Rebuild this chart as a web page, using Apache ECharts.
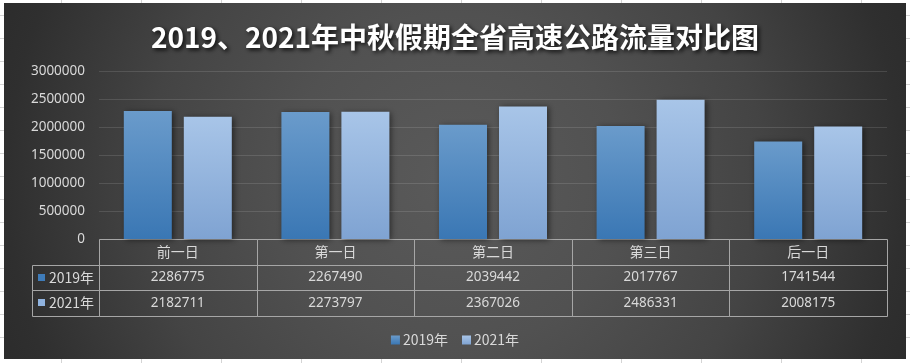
<!DOCTYPE html>
<html>
<head>
<meta charset="utf-8">
<script src="https://cdn.jsdelivr.net/npm/echarts@6/dist/echarts.min.js"></script>
<style>html,body{margin:0;padding:0;background:#fff;}#c{width:910px;height:363px;}</style>
</head>
<body>
<div id="c"></div>
<script>
var TITLE = '2019、2021年中秋假期全省高速公路流量对比图';
var CATEGORIES = ['前一日', '第一日', '第二日', '第三日', '后一日'];
var SERIES_NAMES = ['2019年', '2021年'];
var VALUES_2019 = [2286775, 2267490, 2039442, 2017767, 1741544];
var VALUES_2021 = [2182711, 2273797, 2367026, 2486331, 2008175];
var Y_TICKS = { min: 0, max: 3000000, interval: 500000 };

var COLORS = [
  { top: '#6a9bcb', bottom: '#3a77b4', icon: '#3f7cb9' },
  { top: '#a8c5e8', bottom: '#7fa3d2', icon: '#90b3df' }
];
var LEGEND_COL_W = 67;
var TXT = '#d9d9d9';
var BORDER = '#a6a6a6';

// Table cells: [col, row, text]; col -1 = legend column, row 0 = header
var CELLS = [];
CATEGORIES.forEach(function (c, i) { CELLS.push([i, 0, c]); });
CELLS.push([-1, 1, SERIES_NAMES[0]]);
VALUES_2019.forEach(function (v, i) { CELLS.push([i, 1, String(v)]); });
CELLS.push([-1, 2, SERIES_NAMES[1]]);
VALUES_2021.forEach(function (v, i) { CELLS.push([i, 2, String(v)]); });

function grad(c) {
  return new echarts.graphic.LinearGradient(0, 0, 0, 1, [
    { offset: 0, color: c.top }, { offset: 1, color: c.bottom }
  ]);
}

// Excel sheet gridlines around the chart object (decoration)
var deco = [];
for (var gx = 61; gx <= 861; gx += 80) {
  deco.push({ type: 'line', silent: true, z: -9, shape: { x1: gx + 0.5, y1: 0, x2: gx + 0.5, y2: 3 }, style: { stroke: '#d4d4d4', lineWidth: 1 } });
  deco.push({ type: 'line', silent: true, z: -9, shape: { x1: gx + 0.5, y1: 359, x2: gx + 0.5, y2: 363 }, style: { stroke: '#d4d4d4', lineWidth: 1 } });
}
for (var gy = 15; gy <= 340; gy += 23) {
  deco.push({ type: 'line', silent: true, z: -9, shape: { x1: 0, y1: gy + 0.5, x2: 4, y2: gy + 0.5 }, style: { stroke: '#d4d4d4', lineWidth: 1 } });
  deco.push({ type: 'line', silent: true, z: -9, shape: { x1: 906, y1: gy + 0.5, x2: 910, y2: gy + 0.5 }, style: { stroke: '#d4d4d4', lineWidth: 1 } });
}
deco.push({
  type: 'rect', silent: true, z: -10,
  shape: { x: 4, y: 3, width: 902, height: 356 },
  style: {
    fill: {
      type: 'radial', x: 455, y: 181, r: 560, global: true,
      colorStops: [
        { offset: 0, color: '#5a5a5a' },
        { offset: 0.3, color: '#515151' },
        { offset: 0.55, color: '#444444' },
        { offset: 0.8, color: '#2f2f2f' },
        { offset: 1, color: '#262626' }
      ]
    }
  }
});

var chart = echarts.init(document.getElementById('c'), null, { renderer: 'canvas' });
chart.setOption({
  backgroundColor: '#ffffff',
  animation: false,
  graphic: { elements: deco },
  title: {
    text: TITLE,
    left: 'center',
    top: 18,
    textStyle: {
      color: '#ffffff', fontSize: 28, fontWeight: 'bold',
      fontFamily: '"Noto Sans CJK SC", sans-serif',
      textShadowColor: 'rgba(0,0,0,0.85)', textShadowBlur: 4,
      textShadowOffsetX: 2, textShadowOffsetY: 2
    }
  },
  legend: {
    data: SERIES_NAMES,
    left: 'center',
    top: 328,
    itemWidth: 9,
    itemHeight: 9,
    itemGap: 14,
    icon: 'rect',
    textStyle: { color: TXT, fontSize: 14, fontFamily: '"Noto Sans CJK SC", sans-serif', padding: [0, 0, 0, -2] }
  },
  grid: [
    { left: 99, right: 23, top: 71, height: 168 },
    { left: 99, right: 23, top: 239, height: 77 }
  ],
  xAxis: [
    { type: 'category', gridIndex: 0, data: CATEGORIES, axisLine: { show: false }, axisTick: { show: false }, axisLabel: { show: false } },
    { type: 'category', gridIndex: 1, data: CATEGORIES, show: false }
  ],
  yAxis: [
    {
      type: 'value', gridIndex: 0, min: Y_TICKS.min, max: Y_TICKS.max, interval: Y_TICKS.interval,
      axisLine: { show: false }, axisTick: { show: false },
      axisLabel: { color: TXT, fontSize: 13.5, margin: 14, fontFamily: '"Noto Sans", sans-serif', formatter: function (v) { return String(v); } },
      splitLine: { lineStyle: { color: 'rgba(255,255,255,0.12)', width: 1 } }
    },
    { type: 'category', gridIndex: 1, data: [''].concat(SERIES_NAMES), inverse: true, show: false }
  ],
  series: [
    {
      name: SERIES_NAMES[0], type: 'bar', xAxisIndex: 0, yAxisIndex: 0,
      data: VALUES_2019, barWidth: 48, barGap: '25%',
      itemStyle: { color: grad(COLORS[0]), shadowColor: 'rgba(0,0,0,0.5)', shadowBlur: 6, shadowOffsetX: 2, shadowOffsetY: 1 }
    },
    {
      name: SERIES_NAMES[1], type: 'bar', xAxisIndex: 0, yAxisIndex: 0,
      data: VALUES_2021, barWidth: 48, barGap: '25%',
      itemStyle: { color: grad(COLORS[1]), shadowColor: 'rgba(0,0,0,0.5)', shadowBlur: 6, shadowOffsetX: 2, shadowOffsetY: 1 }
    },
    {
      name: 'table', type: 'custom', xAxisIndex: 1, yAxisIndex: 1, clip: false, silent: true,
      encode: { x: 0, y: 1 },
      data: CELLS.map(function (c) { return [Math.max(c[0], 0), c[1]]; }),
      renderItem: function (params, api) {
        var cell = CELLS[params.dataIndex];
        var col = cell[0], row = cell[1], text = cell[2];
        var sz = api.size([1, 1]);
        var c = api.coord([Math.max(col, 0), row]);
        var x0 = c[0] - sz[0] / 2, x1 = c[0] + sz[0] / 2;
        if (col < 0) { x1 = x0; x0 = x0 - LEGEND_COL_W; }
        var y0 = c[1] - sz[1] / 2, y1 = c[1] + sz[1] / 2;
        var rx0 = Math.round(x0) + 0.5, rx1 = Math.round(x1) + 0.5;
        var ry0 = Math.round(y0) + 0.5, ry1 = Math.round(y1) + 0.5;
        var ch = [{
          type: 'rect', shape: { x: rx0, y: ry0, width: rx1 - rx0, height: ry1 - ry0 },
          style: { fill: 'none', stroke: BORDER, lineWidth: 1 }
        }];
        var cy = (y0 + y1) / 2;
        if (col < 0) {
          ch.push({ type: 'rect', shape: { x: x0 + 6, y: Math.round(cy) - 4, width: 7, height: 7 }, style: { fill: COLORS[row - 1].icon } });
          ch.push({ type: 'text', style: { x: x0 + 17, y: cy, text: text, fill: TXT, fontSize: 14, fontFamily: '"Noto Sans CJK SC", sans-serif', align: 'left', verticalAlign: 'middle' } });
        } else {
          var isHdr = row === 0;
          ch.push({ type: 'text', style: { x: c[0], y: cy, text: text, fill: TXT, fontSize: isHdr ? 14 : 13.5, fontFamily: isHdr ? '"Noto Sans CJK SC", sans-serif' : '"Noto Sans", sans-serif', align: 'center', verticalAlign: 'middle' } });
        }
        return { type: 'group', children: ch };
      }
    }
  ]
});
</script>
</body>
</html>
